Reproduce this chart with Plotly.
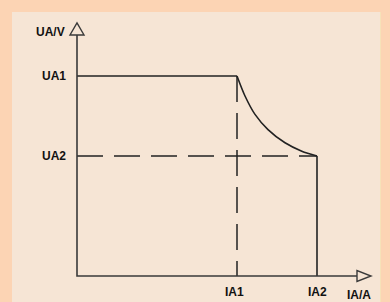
import plotly.graph_objects as go

# ---- data (arbitrary units) ----
IA_labels = ["IA1", "IA2"]
IA_values = [4.0, 6.0]
UA_labels = ["UA1", "UA2"]
UA_values = [5.0, 3.0]
curve_I = [4.0, 4.2, 4.45, 4.775, 5.2, 5.62, 6.0]
curve_U = [5.0, 4.5, 4.04, 3.66, 3.33, 3.12, 3.0]
x_title = "IA/A"
y_title = "UA/V"
x_axis_end = 7.0
y_axis_end = 6.025

LINE = "#222222"
AXIS = "#3a3a3a"
OUTER = "#FCD4B4"
INNER = "#F6E5D5"

fig = go.Figure()

# solid characteristic: horizontal, curve, vertical
fig.add_trace(go.Scatter(x=[0, IA_values[0]], y=[UA_values[0], UA_values[0]],
                         mode="lines", line=dict(color=LINE, width=1.6), hoverinfo="skip"))
fig.add_trace(go.Scatter(x=curve_I, y=curve_U, mode="lines",
                         line=dict(color=LINE, width=1.6, shape="spline", smoothing=0.8),
                         hoverinfo="skip"))
fig.add_trace(go.Scatter(x=[IA_values[1], IA_values[1]], y=[UA_values[1], 0],
                         mode="lines", line=dict(color=LINE, width=1.6), hoverinfo="skip"))
# dashed guides
fig.add_trace(go.Scatter(x=[IA_values[0], IA_values[0]], y=[UA_values[0], 0],
                         mode="lines", line=dict(color=LINE, width=1.5, dash="26px,11px"),
                         hoverinfo="skip"))
fig.add_trace(go.Scatter(x=[0, IA_values[1]], y=[UA_values[1], UA_values[1]],
                         mode="lines", line=dict(color=LINE, width=1.5, dash="26px,11px"),
                         hoverinfo="skip"))
# axes
fig.add_trace(go.Scatter(x=[0, 0, x_axis_end], y=[y_axis_end, 0, 0], mode="lines",
                         line=dict(color=AXIS, width=1.6), hoverinfo="skip"))

shapes = [
    dict(type="rect", xref="paper", yref="paper", x0=12/390, x1=381/390, y0=0, y1=1-12/302,
         fillcolor=INNER, line=dict(width=0), layer="below"),
    dict(type="line", xref="paper", yref="paper", x0=380.5/390, x1=380.5/390, y0=0, y1=1-12/302,
         line=dict(color="#F6E2B8", width=1), layer="below"),
    # y arrow (hollow)
    dict(type="path", xref="x", yref="y",
         path=f"M -0.175 {y_axis_end} L 0.175 {y_axis_end} L 0 {y_axis_end + 0.3} Z",
         fillcolor=INNER, line=dict(color=AXIS, width=1.4)),
    # x arrow (hollow)
    dict(type="path", xref="x", yref="y",
         path=f"M {x_axis_end} -0.1375 L {x_axis_end} 0.1375 L {x_axis_end + 0.35} 0 Z",
         fillcolor=INNER, line=dict(color=AXIS, width=1.4)),
]

font = dict(family="Liberation Sans, Arial, sans-serif", size=12, color="#111111")
ann = []
for lab, v in zip(UA_labels, UA_values):
    ann.append(dict(x=-0.575, y=v, text=f"<b>{lab}</b>", showarrow=False, font=font))
for lab, v, sh in zip(IA_labels, IA_values, [-3, 0]):
    ann.append(dict(x=v, y=-0.4, xshift=sh, text=f"<b>{lab}</b>", showarrow=False, font=font))
ann.append(dict(x=-0.675, y=6.1, text=f"<b>{y_title}</b>", showarrow=False, font=font))
ann.append(dict(x=7.05, y=-0.475, text=f"<b>{x_title}</b>", showarrow=False, font=font))

fig.update_layout(
    width=390, height=302, margin=dict(l=0, r=0, t=0, b=0),
    paper_bgcolor=OUTER, plot_bgcolor="rgba(0,0,0,0)",
    showlegend=False, shapes=shapes, annotations=ann,
    xaxis=dict(range=[-1.925, 7.825], visible=False, fixedrange=True),
    yaxis=dict(range=[-0.65, 6.9], visible=False, fixedrange=True),
)

fig.write_html("out.html", config={"displayModeBar": False},
               post_script="document.body.style.margin='0';document.body.style.padding='0';"
                           "document.body.style.overflow='hidden';")
